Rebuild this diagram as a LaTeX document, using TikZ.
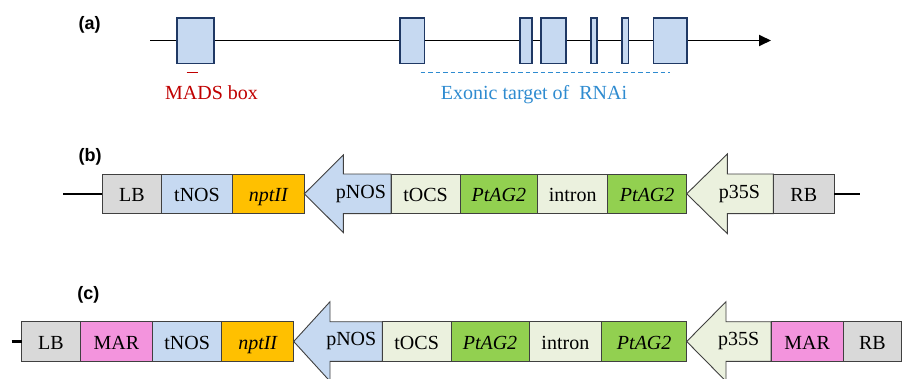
\documentclass[tikz,border=0pt]{standalone}
\usepackage{fontspec}
\setmainfont{Liberation Serif}
\newfontfamily\labfont{Liberation Sans}
\usetikzlibrary{arrows.meta}
\definecolor{grayb}{HTML}{D9D9D9}
\definecolor{blueb}{HTML}{C6D9F1}
\definecolor{orangeb}{HTML}{FFC000}
\definecolor{beigeb}{HTML}{EBF1DE}
\definecolor{greenb}{HTML}{92D050}
\definecolor{pinkb}{HTML}{F394DD}
\definecolor{exonfill}{HTML}{C6D9F1}
\definecolor{exonedge}{HTML}{1F3864}
\definecolor{madsred}{HTML}{C00000}
\definecolor{rnaiblue}{HTML}{2E8BD0}
\definecolor{segedge}{HTML}{404040}
\tikzset{
  segbox/.style={draw=segedge, line width=0.9pt, inner sep=0pt, outer sep=0pt,
    text height=15pt, text depth=0pt, font=\fontsize{20}{22}\selectfont},
  exonbox/.style={draw=exonedge, fill=exonfill, line width=1.6pt, inner sep=0pt, outer sep=0pt},
  arrowseg/.style={draw=segedge, line width=0.9pt},
  segtext/.style={inner sep=0pt, font=\fontsize{20}{22}\selectfont},
  lab/.style={inner sep=0pt, font=\labfont\bfseries\fontsize{18}{20}\selectfont},
  backbone/.style={line width=2.4pt, black},
  geneline/.style={line width=1.8pt, black},
}
\newcommand{\seg}[7]{%
  \node[segbox, fill=#6, minimum width={(#3-#2)*1pt}, minimum height={(#5-#4)*1pt}]
    (#1) at ({(#2+#3)/2},{(#4+#5)/2}) {#7};}
\newcommand{\exon}[3]{%
  \node[exonbox, minimum width={(#3-#2)*1pt}, minimum height={45.6pt}]
    (#1) at ({(#2+#3)/2},40.5) {};}
\begin{document}
\begin{tikzpicture}[x=1pt,y=-1pt]
\useasboundingbox (0,0) rectangle (902,378);
% ---------------- (a) ----------------
\node[lab] (la) at (89.7,25) {(a)};
\coordinate (gS) at (150,40.5);
\coordinate (gE) at (771,40.5);
\draw[geneline,-{Triangle[length=12pt,width=11pt]}] (gS) -- (gE);
\exon{e1}{176.7}{213.7}
\exon{e2}{400}{424.3}
\exon{e3}{520}{532}
\exon{e4}{540.7}{565.7}
\exon{e5}{590.7}{596.7}
\exon{e6}{622}{628.3}
\exon{e7}{653.3}{686.7}
\coordinate (m1) at (186.7,72.7);
\coordinate (m2) at (198.3,72.7);
\draw[madsred, line width=1.3pt] (m1) -- (m2);
\node[segtext, text=madsred, anchor=base west] (mads) at (165,99.3) {MADS box};
\coordinate (r1) at (420.7,72.7);
\coordinate (r2) at (670,72.7);
\draw[rnaiblue, line width=1.1pt, dash pattern=on 4.5pt off 3pt] (r1) -- (r2);
\node[segtext, text=rnaiblue, anchor=base west] (rnai) at (440.7,99.3) {Exonic target of\ \ RNAi};
% ---------------- (b) ----------------
\node[lab] (lb) at (90,156.7) {(b)};
\coordinate (bL) at (63.3,193.8);
\coordinate (bR) at (860,193.8);
\seg{bLB}{102.3}{161.7}{174}{213.6}{grayb}{LB}
\seg{btNOS}{161.7}{232.3}{174}{213.6}{blueb}{tNOS}
\seg{bnpt}{232.3}{304.3}{174}{213.6}{orangeb}{\itshape nptII}
\draw[arrowseg, fill=blueb] (304.3,193.8) -- (343.3,155) -- (343.3,174) -- (391,174)
  -- (391,213.6) -- (343.3,213.6) -- (343.3,232.6) -- cycle;
\node[segtext] (bpNOS) at (361,193.8) {pNOS};
\seg{btOCS}{391}{460}{174}{213.6}{beigeb}{tOCS}
\seg{bAG1}{460}{537.7}{174}{213.6}{greenb}{\itshape PtAG2}
\seg{bint}{537.7}{607.7}{174}{213.6}{beigeb}{intron}
\seg{bAG2}{607.7}{686.7}{174}{213.6}{greenb}{\itshape PtAG2}
\draw[arrowseg, fill=beigeb] (686.7,193.8) -- (727.3,154) -- (727.3,174) -- (773.3,174)
  -- (773.3,213.6) -- (727.3,213.6) -- (727.3,233.6) -- cycle;
\node[segtext] (bp35S) at (739.5,193.8) {p35S};
\seg{bRB}{773.3}{834.3}{174}{213.6}{grayb}{RB}
\draw[backbone] (bL) -- (bLB.west);
\draw[backbone] (bRB.east) -- (bR);
% ---------------- (c) ----------------
\node[lab] (lc) at (88.3,295) {(c)};
\coordinate (cL) at (11.7,341.5);
\seg{cLB}{21.7}{80}{321.7}{361.3}{grayb}{LB}
\seg{cMAR1}{80}{152.7}{321.7}{361.3}{pinkb}{MAR}
\seg{ctNOS}{152.7}{221.7}{321.7}{361.3}{blueb}{tNOS}
\seg{cnpt}{221.7}{293.7}{321.7}{361.3}{orangeb}{\itshape nptII}
\draw[arrowseg, fill=blueb] (293.7,341.5) -- (330,301.7) -- (330,321.7) -- (382.3,321.7)
  -- (382.3,361.3) -- (330,361.3) -- (330,381.3) -- cycle;
\node[segtext] (cpNOS) at (351.3,341.5) {pNOS};
\seg{ctOCS}{382.3}{451}{321.7}{361.3}{beigeb}{tOCS}
\seg{cAG1}{451}{529}{321.7}{361.3}{greenb}{\itshape PtAG2}
\seg{cint}{529}{601.7}{321.7}{361.3}{beigeb}{intron}
\seg{cAG2}{601.7}{686.7}{321.7}{361.3}{greenb}{\itshape PtAG2}
\draw[arrowseg, fill=beigeb] (686.7,341.5) -- (726,301.7) -- (726,321.7) -- (771,321.7)
  -- (771,361.3) -- (726,361.3) -- (726,381.3) -- cycle;
\node[segtext] (cp35S) at (738.8,341.5) {p35S};
\seg{cMAR2}{771}{843.3}{321.7}{361.3}{pinkb}{MAR}
\seg{cRB}{843.3}{901.4}{321.7}{361.3}{grayb}{RB}
\draw[backbone] (cL) -- (cLB.west);
\end{tikzpicture}
\end{document}
